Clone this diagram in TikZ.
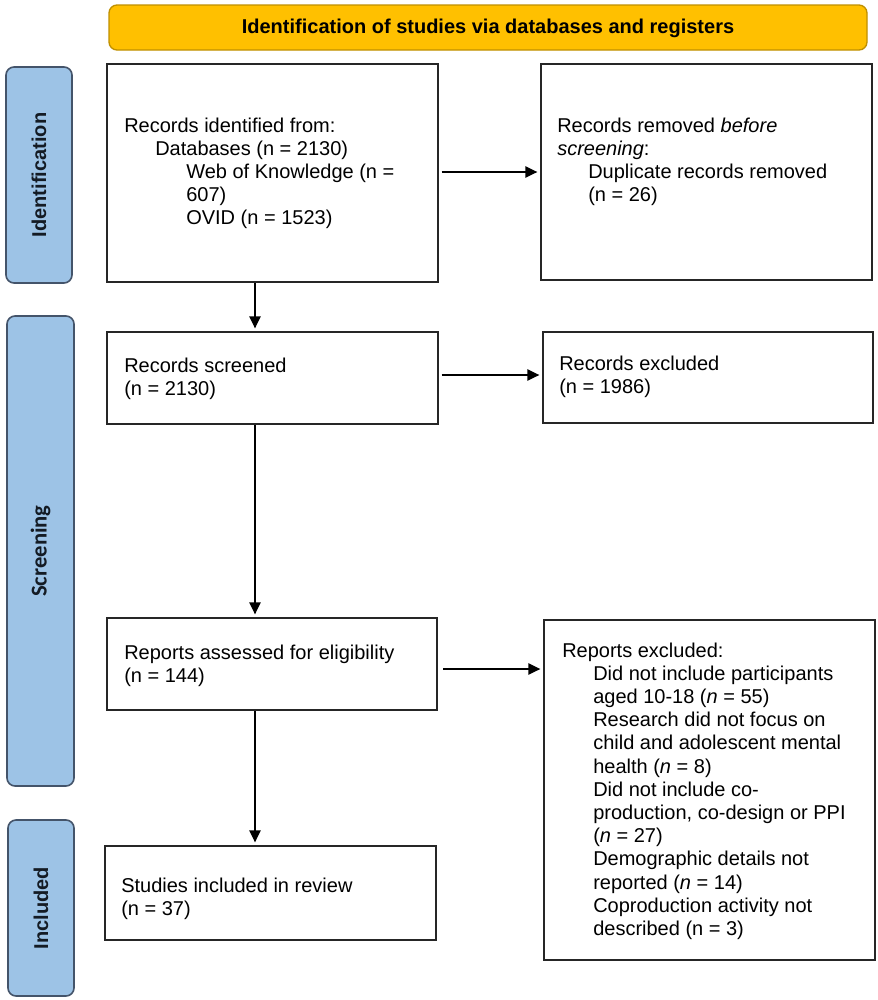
\documentclass[tikz,border=0pt]{standalone}
\usepackage{fontspec}
\setmainfont{Liberation Sans}
\newfontfamily\calibrifont{Carlito}
\usetikzlibrary{arrows.meta,fit}
\definecolor{bannerfill}{HTML}{FFC000}
\definecolor{bannerdraw}{HTML}{BF9000}
\definecolor{phasefill}{HTML}{9DC3E6}
\definecolor{phasedraw}{HTML}{44546A}
\definecolor{phaseink}{HTML}{141B24}
\newlength{\indA}\setlength{\indA}{23.25pt}
\begin{document}
\begin{tikzpicture}[x=0.75pt,y=-0.75pt,
  box/.style={draw=black!85, line width=1.5pt, inner sep=0pt},
  phase/.style={draw=phasedraw, fill=phasefill, rounded corners=6pt, line width=1.2pt, inner sep=0pt},
  banner/.style={draw=bannerdraw, fill=bannerfill, rounded corners=6pt, line width=1pt, inner sep=0pt},
  flow/.style={line width=1.1pt, -{Triangle[length=9pt,width=8.5pt]}, shorten >=2pt},
  txt/.style={anchor=base west, inner sep=0pt, font=\fontsize{15pt}{17.4pt}\selectfont},
  phasetxt/.style={rotate=90, inner sep=0pt, text=phaseink, font=\bfseries\fontsize{15pt}{18pt}\selectfont}
]
\useasboundingbox (0,0) rectangle (878,1000);
\fill[white] (0,0) rectangle (878,1000);

% banner
\node[banner, fit={(109,5) (867,50)}] (banner) {};
\node[inner sep=0pt, font=\bfseries\fontsize{15pt}{18pt}\selectfont] (bannertxt) at (488,28) {Identification of studies via databases and registers};

% phase bars
\node[phase, fit={(6,67) (72,283)}] (pid) {};
\node[phasetxt] (pidt) at (pid.center) {Identification};
\node[phase, fit={(7,316) (74,786)}] (psc) {};
\node[phasetxt, font=\calibrifont\bfseries\fontsize{17pt}{20pt}\selectfont] (psct) at (psc.center) {Screening};
\node[phase, fit={(8,820) (74,996)}] (pin) {};
\node[phasetxt] (pint) at (pin.center) {Included};

% boxes
\node[box, fit={(107,64) (438,282)}] (b1) {};
\node[box, fit={(541,64) (872,280)}] (b2) {};
\node[box, fit={(107,332) (438,424)}] (b3) {};
\node[box, fit={(543,332) (873,423)}] (b4) {};
\node[box, fit={(107,618) (437,710)}] (b5) {};
\node[box, fit={(544,620) (875,960)}] (b6) {};
\node[box, fit={(105,846) (436,940)}] (b7) {};

% texts
\node[txt] (t1) at (124,132) {\parbox[t]{320pt}{\raggedright
Records identified from:\\
\hspace*{\indA}Databases (n = 2130)\\
\hspace*{2\indA}Web of Knowledge (n =\\
\hspace*{2\indA}607)\\
\hspace*{2\indA}OVID (n = 1523)}};
\node[txt] (t2) at (557,132) {\parbox[t]{320pt}{\raggedright
Records removed \textit{before}\\
\textit{screening}:\\
\hspace*{\indA}Duplicate records removed\\
\hspace*{\indA}(n = 26)}};
\node[txt] (t3) at (124,372) {\parbox[t]{320pt}{\raggedright
Records screened\\
(n = 2130)}};
\node[txt] (t4) at (559,370) {\parbox[t]{320pt}{\raggedright
Records excluded\\
(n = 1986)}};
\node[txt] (t5) at (124,659) {\parbox[t]{320pt}{\raggedright
Reports assessed for eligibility\\
(n = 144)}};
\node[txt] (t6) at (562,657) {\parbox[t]{320pt}{\raggedright
Reports excluded:\\
\hspace*{\indA}Did not include participants\\
\hspace*{\indA}aged 10-18 (\textit{n} = 55)\\
\hspace*{\indA}Research did not focus on\\
\hspace*{\indA}child and adolescent mental\\
\hspace*{\indA}health (\textit{n} = 8)\\
\hspace*{\indA}Did not include co-\\
\hspace*{\indA}production, co-design or PPI\\
\hspace*{\indA}(\textit{n} = 27)\\
\hspace*{\indA}Demographic details not\\
\hspace*{\indA}reported (\textit{n} = 14)\\
\hspace*{\indA}Coproduction activity not\\
\hspace*{\indA}described (n = 3)}};
\node[txt] (t7) at (121,892) {\parbox[t]{320pt}{\raggedright
Studies included in review\\
(n = 37)}};

% connector guides
\coordinate (vx) at (255,0);
\coordinate (h1) at (0,172);
\coordinate (h2) at (0,375);
\coordinate (h3) at (0,669);

% connectors
\draw[flow, shorten <=2pt] (b1.east |- h1) -- (b2.west |- h1);
\draw[flow, shorten <=2pt] (b3.east |- h2) -- (b4.west |- h2);
\draw[flow, shorten <=4pt] (b5.east |- h3) -- (b6.west |- h3);
\draw[flow] (b1.south -| vx) -- (b3.north -| vx);
\draw[flow] (b3.south -| vx) -- (b5.north -| vx);
\draw[flow] (b5.south -| vx) -- (b7.north -| vx);
\end{tikzpicture}
\end{document}
